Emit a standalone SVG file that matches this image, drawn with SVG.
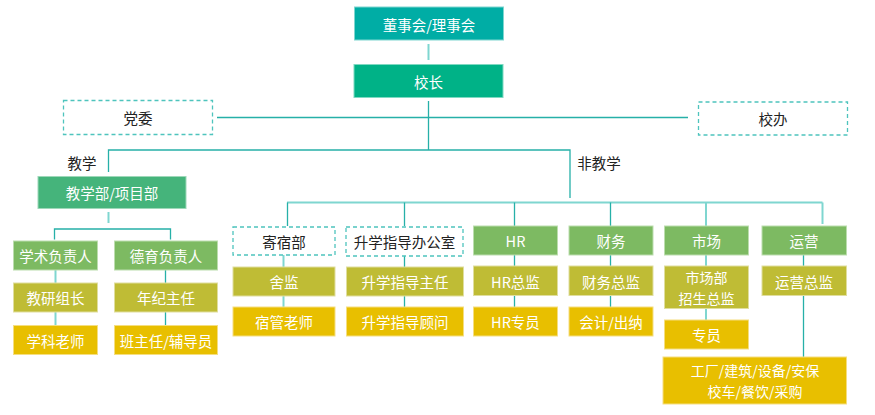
<svg xmlns="http://www.w3.org/2000/svg" width="875" height="415" viewBox="0 0 875 415">
<style>
text{font-family:"Noto Sans CJK SC","Noto Sans",sans-serif;font-size:14.5px;text-anchor:middle;dominant-baseline:central}
.w{fill:#ffffff}
.k{fill:#222222}
.t2{font-size:14px}
.board{fill:#00ADA5;stroke:#7FD6D0;stroke-width:1}
.head{fill:#00B287;stroke:#7FD9C2;stroke-width:1}
.dept{fill:#45B47B;stroke:#9ED8B9;stroke-width:1}
.g{fill:#7DBA62;stroke:#BCDDAE;stroke-width:1}
.o{fill:#BFBC35;stroke:#E0DE9E;stroke-width:1}
.y{fill:#E8BF00;stroke:#F5DE80;stroke-width:1}
.dash{fill:#ffffff;stroke:#4EC4BD;stroke-width:1.3;stroke-dasharray:4 3}
.c1{stroke:#26B0A8;stroke-width:1.3;fill:none}
.c2{stroke:#7FD6D0;stroke-width:2;fill:none}
</style>
<g id="connectors">
<line class="c2" x1="428.5" y1="44" x2="428.5" y2="60"/>
<line class="c1" x1="428.5" y1="101" x2="428.5" y2="150"/>
<line class="c1" x1="217" y1="117.5" x2="688" y2="117.5"/>
<polyline class="c1" points="108.5,172 108.5,150 570,150 570,198"/>
<line class="c2" x1="108.5" y1="212" x2="108.5" y2="223"/>
<polyline class="c1" points="54.5,239.5 54.5,229 170.5,229 170.5,239.5"/>
<line class="c2" x1="55.5" y1="270" x2="55.5" y2="283"/>
<line class="c2" x1="55.5" y1="312" x2="55.5" y2="325"/>
<line class="c1" x1="165.5" y1="270" x2="165.5" y2="283"/>
<line class="c1" x1="165.5" y1="312" x2="165.5" y2="325"/>
<line class="c2" x1="287" y1="202.5" x2="822.5" y2="202.5"/>
<line class="c1" x1="287.5" y1="202.5" x2="287.5" y2="226"/>
<line class="c1" x1="404.5" y1="202.5" x2="404.5" y2="226"/>
<line class="c1" x1="514.5" y1="202.5" x2="514.5" y2="226"/>
<line class="c1" x1="610.5" y1="202.5" x2="610.5" y2="226"/>
<line class="c2" x1="706" y1="202.5" x2="706" y2="226"/>
<line class="c2" x1="822.5" y1="202.5" x2="822.5" y2="224"/>
<line class="c2" x1="283.5" y1="255" x2="283.5" y2="267"/>
<line class="c2" x1="283.5" y1="296" x2="283.5" y2="307"/>
<line class="c1" x1="404.5" y1="256" x2="404.5" y2="267"/>
<line class="c1" x1="404.5" y1="296" x2="404.5" y2="307"/>
<line class="c1" x1="514.5" y1="255" x2="514.5" y2="266"/>
<line class="c1" x1="514.5" y1="296" x2="514.5" y2="307"/>
<line class="c1" x1="610.5" y1="255" x2="610.5" y2="266"/>
<line class="c1" x1="610.5" y1="296" x2="610.5" y2="307"/>
<line class="c2" x1="706" y1="255" x2="706" y2="266"/>
<line class="c2" x1="706" y1="309" x2="706" y2="320"/>
<line class="c1" x1="803.5" y1="255" x2="803.5" y2="266"/>
<line class="c1" x1="803.5" y1="296" x2="803.5" y2="357"/>
</g>
<g id="board"><rect class="board" x="354.5" y="7" width="149" height="33"/><text class="w" x="429" y="24">董事会/理事会</text></g>
<g id="principal"><rect class="head" x="354" y="64.5" width="149" height="33"/><text class="w" x="428.5" y="81">校长</text></g>
<g id="party"><rect class="dash" x="63.5" y="100.5" width="149" height="34"/><text class="k" x="138" y="117.5">党委</text></g>
<g id="office"><rect class="dash" x="698.5" y="102" width="149" height="33"/><text class="k" x="773" y="118.5">校办</text></g>
<g id="label-teach"><text class="k" x="82" y="162">教学</text></g>
<g id="label-nonteach"><text class="k" x="599" y="162">非教学</text></g>
<g id="teach-dept"><rect class="dept" x="38" y="176.5" width="148" height="32"/><text class="w" x="112" y="192.5">教学部/项目部</text></g>
<g id="academic"><rect class="g" x="13.5" y="241" width="84" height="29"/><text class="w" x="55.5" y="255.5">学术负责人</text></g>
<g id="moral"><rect class="g" x="114.5" y="241" width="103" height="29"/><text class="w" x="166" y="255.5">德育负责人</text></g>
<g id="research"><rect class="o" x="13.5" y="283" width="84" height="29"/><text class="w" x="55.5" y="297.5">教研组长</text></g>
<g id="grade"><rect class="o" x="114.5" y="283" width="103" height="29"/><text class="w" x="166" y="297.5">年纪主任</text></g>
<g id="subject"><rect class="y" x="13.5" y="325.5" width="84" height="29"/><text class="w" x="55.5" y="340">学科老师</text></g>
<g id="homeroom"><rect class="y" x="114.5" y="325.5" width="103" height="29"/><text class="w" x="166" y="340">班主任/辅导员</text></g>
<g id="boarding"><rect class="dash" x="233" y="227" width="102" height="28"/><text class="k" x="284" y="241">寄宿部</text></g>
<g id="guidance"><rect class="dash" x="346" y="227" width="117" height="29"/><text class="k" x="404.5" y="241.5">升学指导办公室</text></g>
<g id="dorm-sup"><rect class="o" x="233" y="267" width="102" height="29"/><text class="w" x="284" y="281.5">舍监</text></g>
<g id="guid-dir"><rect class="o" x="346.5" y="267" width="117" height="29"/><text class="w" x="405" y="281.5">升学指导主任</text></g>
<g id="dorm-teacher"><rect class="y" x="233" y="307" width="102" height="29"/><text class="w" x="284" y="321.5">宿管老师</text></g>
<g id="guid-adv"><rect class="y" x="346.5" y="307" width="117" height="29"/><text class="w" x="405" y="321.5">升学指导顾问</text></g>
<g id="hr"><rect class="g" x="473.5" y="226" width="84" height="29"/><text class="w" x="515.5" y="240.5">HR</text></g>
<g id="finance"><rect class="g" x="569" y="226" width="84" height="29"/><text class="w" x="611" y="240.5">财务</text></g>
<g id="market"><rect class="g" x="664.5" y="226" width="84" height="29"/><text class="w" x="706.5" y="240.5">市场</text></g>
<g id="ops"><rect class="g" x="762" y="226" width="84.5" height="29"/><text class="w" x="804" y="240.5">运营</text></g>
<g id="hr-dir"><rect class="o" x="473.5" y="266" width="84" height="29.5"/><text class="w" x="515.5" y="281">HR总监</text></g>
<g id="fin-dir"><rect class="o" x="569" y="266" width="84" height="29.5"/><text class="w" x="611" y="281">财务总监</text></g>
<g id="mkt-dir"><rect class="o" x="664.5" y="266" width="84" height="42.5"/><text class="w t2" x="706.5" y="277"><tspan x="706.5" y="277">市场部</tspan><tspan x="706.5" y="297.5">招生总监</tspan></text></g>
<g id="ops-dir"><rect class="o" x="762" y="266" width="84.5" height="29.5"/><text class="w" x="804" y="281">运营总监</text></g>
<g id="hr-staff"><rect class="y" x="473.5" y="307" width="84" height="29"/><text class="w" x="515.5" y="321.5">HR专员</text></g>
<g id="fin-staff"><rect class="y" x="569" y="307" width="84" height="29"/><text class="w" x="611" y="321.5">会计/出纳</text></g>
<g id="mkt-staff"><rect class="y" x="664.5" y="320" width="84" height="29"/><text class="w" x="706.5" y="334.5">专员</text></g>
<g id="ops-staff"><rect class="y" x="663" y="357" width="183.5" height="47"/><text class="w t2" x="755" y="370.25"><tspan x="755" y="370.25">工厂/建筑/设备/安保</tspan><tspan x="755" y="390.75">校车/餐饮/采购</tspan></text></g>
</svg>
